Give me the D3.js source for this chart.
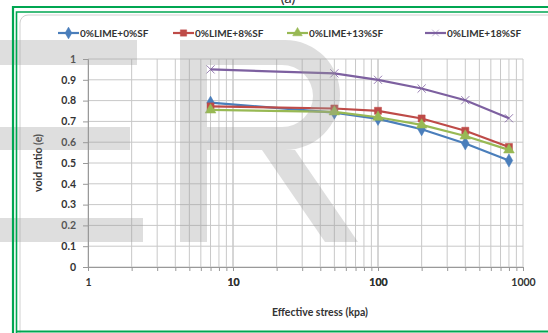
<!DOCTYPE html>
<html>
<head>
<meta charset="utf-8">
<script src="https://cdn.jsdelivr.net/npm/d3@7"></script>
<style>
  body { margin: 0; background: #fff; }
  text { font-family: Lato, "Liberation Sans", sans-serif; fill: #333; }
</style>
</head>
<body>
<script>
var svgWidth = 548;
var svgHeight = 333;

// data
var stress = [7, 50, 100, 200, 400, 800];
var seriesNames = ["0%LIME+0%SF", "0%LIME+8%SF", "0%LIME+13%SF", "0%LIME+18%SF"];
var lime0sf0 = [0.79, 0.742, 0.712, 0.662, 0.594, 0.512];
var lime0sf8 = [0.772, 0.762, 0.751, 0.714, 0.655, 0.577];
var lime0sf13 = [0.755, 0.746, 0.72, 0.683, 0.63, 0.563];
var lime0sf18 = [0.95, 0.931, 0.9, 0.858, 0.802, 0.715];
var yTicks = [0, 0.1, 0.2, 0.3, 0.4, 0.5, 0.6, 0.7, 0.8, 0.9, 1];
var xTicks = [1, 10, 100, 1000];

var colors = ["#4a7ebb", "#be4b48", "#98b954", "#7d60a0"];
var symbols = [d3.symbolDiamond, d3.symbolSquare, d3.symbolTriangle, d3.symbolTimes];
var allSeries = [lime0sf0, lime0sf8, lime0sf13, lime0sf18];

var margin = { top: 59, right: 25, bottom: 66, left: 88 };
var width = svgWidth - margin.left - margin.right;
var height = svgHeight - margin.top - margin.bottom;

var svg = d3.select("body")
  .append("svg")
  .attr("width", svgWidth)
  .attr("height", svgHeight);

// caption peeking in at the top
svg.append("text")
  .attr("x", 288).attr("y", 3)
  .attr("text-anchor", "middle")
  .style("font-size", "15px")
  .text("(a)");

// chart box
svg.append("rect")
  .attr("x", 20).attr("y", 15)
  .attr("width", 540).attr("height", 330)
  .attr("rx", 8)
  .attr("fill", "#fff")
  .attr("stroke", "#d0d0d0");

var chartGroup = svg.append("g")
  .attr("transform", `translate(${margin.left}, ${margin.top})`);

var xScale = d3.scaleLog()
  .domain([1, 1000])
  .range([0, width]);

var yScale = d3.scaleLinear()
  .domain([0, 1])
  .range([height, 0]);

// grid
var minor = [];
[1, 10, 100].forEach(function(d) {
  for (var i = 1; i <= 10; i++) minor.push(d * i);
});
chartGroup.append("g")
  .selectAll("line")
  .data(minor)
  .enter()
  .append("line")
  .attr("x1", d => xScale(d)).attr("x2", d => xScale(d))
  .attr("y1", 0).attr("y2", height)
  .attr("stroke", "#c8c8c8")
  .attr("stroke-width", 1);

chartGroup.append("g")
  .selectAll("line")
  .data(yTicks)
  .enter()
  .append("line")
  .attr("x1", 0).attr("x2", width)
  .attr("y1", d => yScale(d)).attr("y2", d => yScale(d))
  .attr("stroke", "#c8c8c8")
  .attr("stroke-width", 1);

// axes
var bottomAxis = d3.axisBottom(xScale)
  .tickValues(minor)
  .tickFormat(d => xTicks.indexOf(d) >= 0 ? d : "")
  .tickSize(4)
  .tickPadding(8);
var leftAxis = d3.axisLeft(yScale)
  .tickValues(yTicks)
  .tickFormat(d3.format("~g"))
  .tickSize(5)
  .tickPadding(7);

var xAxisG = chartGroup.append("g")
  .attr("transform", `translate(0, ${height})`)
  .call(bottomAxis);
var yAxisG = chartGroup.append("g")
  .call(leftAxis);

[xAxisG, yAxisG].forEach(function(g) {
  g.select(".domain").attr("stroke", "#999");
  g.selectAll(".tick line").attr("stroke", "#999");
  g.selectAll(".tick text")
    .style("font-family", "Lato, sans-serif")
    .style("font-size", "10.5px")
    .style("font-weight", "bold")
    .attr("fill", "#333");
});

// series
var line = d3.line()
  .x((d, i) => xScale(stress[i]))
  .y(d => yScale(d));

allSeries.forEach(function(vals, k) {
  chartGroup.append("path")
    .datum(vals)
    .attr("fill", "none")
    .attr("stroke", colors[k])
    .attr("stroke-width", 2.2)
    .attr("d", line);

  chartGroup.selectAll(".pt" + k)
    .data(vals)
    .enter()
    .append("path")
    .attr("class", "pt" + k)
    .attr("transform", (d, i) => `translate(${xScale(stress[i])}, ${yScale(d)})`)
    .attr("d", d3.symbol().type(symbols[k]).size(k == 3 ? 45 : 50))
    .attr("fill", k == 3 ? "none" : colors[k])
    .attr("stroke", colors[k])
    .attr("stroke-width", k == 3 ? 0.8 : 0.5);
});

// axis labels
chartGroup.append("text")
  .attr("transform", "rotate(-90)")
  .attr("y", -46)
  .attr("x", -(height / 2))
  .attr("text-anchor", "middle")
  .style("font-size", "10.5px")
  .style("font-weight", "bold")
  .text("void ratio (e)");

chartGroup.append("text")
  .attr("x", 232)
  .attr("y", height + 49)
  .attr("text-anchor", "middle")
  .style("font-size", "10.5px")
  .style("font-weight", "bold")
  .text("Effective stress (kpa)");

// legend
var legendX = [58, 173, 287, 425];
var legend = svg.append("g").attr("transform", "translate(0, 33)");
seriesNames.forEach(function(name, k) {
  var g = legend.append("g").attr("transform", `translate(${legendX[k]}, 0)`);
  g.append("line")
    .attr("x1", 0).attr("x2", 21)
    .attr("stroke", colors[k])
    .attr("stroke-width", 2.2);
  g.append("path")
    .attr("transform", "translate(10.5, 0)")
    .attr("d", d3.symbol().type(symbols[k]).size(k == 3 ? 30 : 40))
    .attr("fill", k == 3 ? "none" : colors[k])
    .attr("stroke", colors[k])
    .attr("stroke-width", 0.5);
  g.append("text")
    .attr("x", 22)
    .attr("y", 3.5)
    .style("font-size", "10px")
    .style("font-weight", "bold")
    .text(name);
});

// faint watermark letters
var wm = svg.append("g")
  .attr("fill", "#9a9a9a")
  .attr("fill-opacity", 0.33);
wm.append("rect").attr("x", 0).attr("y", 40).attr("width", 137).attr("height", 25);
wm.append("rect").attr("x", 0).attr("y", 127).attr("width", 130).attr("height", 23);
wm.append("rect").attr("x", 0).attr("y", 218).attr("width", 143).attr("height", 24);
wm.append("path")
  .attr("fill-rule", "evenodd")
  .attr("d", "M180,40 L285,40 A55,55 0 0 1 285,150 L207,150 L207,242 L180,242 Z " +
             "M207,65 L282,65 A31,31 0 0 1 282,127 L207,127 Z");
wm.append("path")
  .attr("d", "M262,150 L295,150 L358,242 L325,242 Z");

// green frame
var frame = svg.append("g").attr("fill", "none").attr("stroke", "#00a651");
frame.append("path").attr("d", "M13,333 L13,7 L560,7").attr("stroke-width", 2.2);
frame.append("path").attr("d", "M16.5,333 L16.5,12 L560,12").attr("stroke-width", 1.6);
frame.append("line").attr("x1", 16).attr("x2", 560).attr("y1", 331.5).attr("y2", 331.5).attr("stroke-width", 2);
</script>
</body>
</html>
